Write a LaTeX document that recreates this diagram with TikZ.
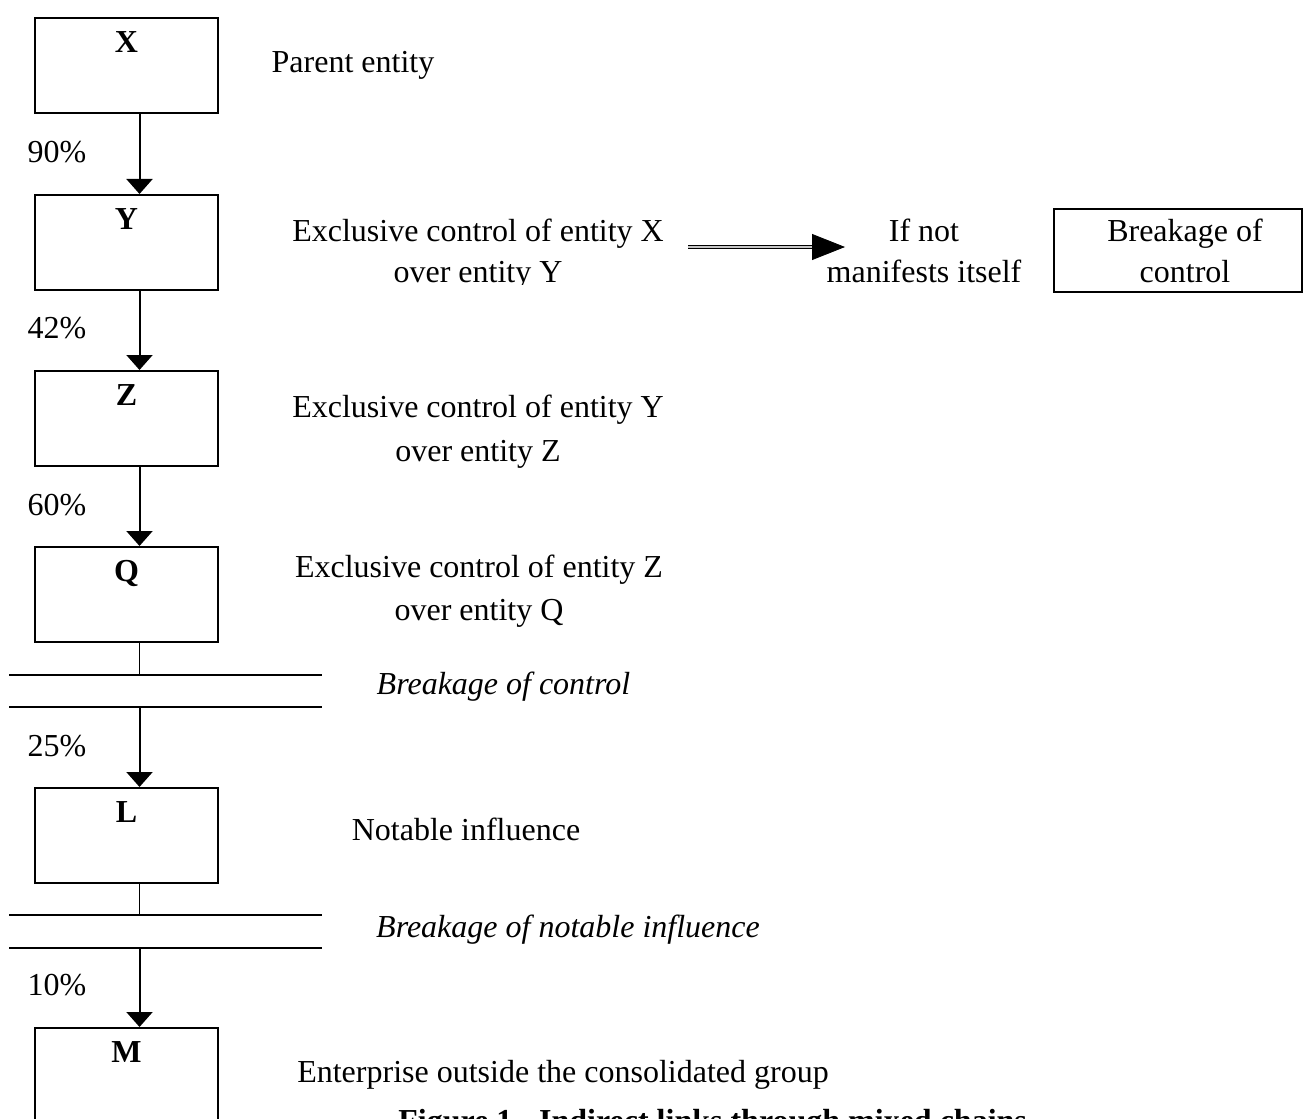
\documentclass[tikz,border=0pt]{standalone}
\usepackage{fontspec}
\setmainfont{Liberation Serif}
\usetikzlibrary{arrows.meta}
\newcommand{\hy}{\vphantom{fy}}
\begin{document}
\begin{tikzpicture}[x=0.5pt,y=-0.5pt,
  font=\fontsize{16}{20.5}\selectfont,
  entity/.style={draw, line width=1pt, minimum width=91.5pt, inner xsep=0pt, inner ysep=0pt,
    text height=17.2pt, text depth=30.3pt, font=\fontsize{16}{20}\selectfont\bfseries},
  txt/.style={inner sep=0pt, text height=10.95pt, text depth=3.5pt},
  itx/.style={txt, font=\fontsize{16}{20}\selectfont\itshape},
  ml/.style={align=center, inner sep=0pt},
  arr/.style={line width=1pt, -{Triangle[width=13pt,length=7.5pt]}},
  thinln/.style={line width=0.65pt},
  brkln/.style={line width=0.7pt}
]
\useasboundingbox (0,0) rectangle (1304,1118);
\clip (0,0) rectangle (1304,1118);

% entity boxes
\node[entity] (X) at (126.5,66) {X};
\node[entity] (Y) at (126.5,242.5) {Y};
\node[entity] (Z) at (126.5,418.5) {Z};
\node[entity] (Q) at (126.5,594.5) {Q};
\node[entity] (L) at (126.5,835.5) {L};
\node[entity] (M) at (126.5,1075.5) {M};

% percentages
\node[txt] (p1) at (57,155) {90\%};
\node[txt] (p2) at (57,331) {42\%};
\node[txt] (p3) at (57,508) {60\%};
\node[txt] (p4) at (57,749) {25\%};
\node[txt] (p5) at (57,988) {10\%};

% arrows
\draw[arr] ([xshift=6.5pt]X.south) -- ([xshift=6.5pt]Y.north);
\draw[arr] ([xshift=6.5pt]Y.south) -- ([xshift=6.5pt]Z.north);
\draw[arr] ([xshift=6.5pt]Z.south) -- ([xshift=6.5pt]Q.north);

% break lines
\coordinate (b1l) at (9,675);
\coordinate (b1r) at (322,675);
\coordinate (b2l) at (9,707);
\coordinate (b2r) at (322,707);
\coordinate (b1) at (139.5,675);
\coordinate (b2) at (139.5,707);
\draw[brkln] (b1l) -- (b1r);
\draw[brkln] (b2l) -- (b2r);
\draw[thinln] ([xshift=6.5pt]Q.south) -- (b1);
\draw[arr] (b2) -- ([xshift=6.5pt]L.north);

\coordinate (b3l) at (9,915);
\coordinate (b3r) at (322,915);
\coordinate (b4l) at (9,948);
\coordinate (b4r) at (322,948);
\coordinate (b3) at (139.5,915);
\coordinate (b4) at (139.5,948);
\draw[brkln] (b3l) -- (b3r);
\draw[brkln] (b4l) -- (b4r);
\draw[thinln] ([xshift=6.5pt]L.south) -- (b3);
\draw[arr] (b4) -- ([xshift=6.5pt]M.north);

% right-hand texts
\node[txt] (tX) at (353,65) {Parent entity};
\begin{scope}
\clip (250,190) rectangle (700,284);
\node[ml, font=\fontsize{16}{20.5}\selectfont] (tY) at (478,254.5) {\hy Exclusive control of entity X\\over entity Y\hy};
\end{scope}
\node[ml, font=\fontsize{16}{22}\selectfont] (tZ) at (478,432) {\hy Exclusive control of entity Y\\over entity Z\hy};
\node[ml, font=\fontsize{16}{21.5}\selectfont] (tQ) at (479,591.5) {\hy Exclusive control of entity Z\\over entity Q\hy};
\node[ml, font=\fontsize{16}{20.5}\selectfont] (ifn) at (924,254.5) {\hy If not\\manifests itself\hy};

% double arrow
\coordinate (da) at (688,247);
\coordinate (dm) at (815,247);
\coordinate (dt) at (845,247);
\draw[line width=0.6pt, double=gray!45, double distance=1pt] (da) -- (dm);
\draw[line width=0.4pt, -{Triangle[width=13pt,length=16.5pt]}] (dm) -- (dt);

% breakage box
\node[draw, line width=1pt, minimum width=124pt, minimum height=41.5pt, inner sep=0pt] (bbox) at (1178,250.5) {};
\node[ml, font=\fontsize{16}{20.5}\selectfont] (btxt) at (1185,254.5) {\hy Breakage of\\control\hy};

\node[itx] (bc) at (503.5,687) {Breakage of control};
\node[txt] (tL) at (466,833) {Notable influence};
\node[itx] (bn) at (568,930) {Breakage of notable influence};
\node[txt] (tM) at (563,1075) {Enterprise outside the consolidated group};
\node[inner sep=0pt, anchor=base west, font=\fontsize{16}{20}\selectfont\bfseries] (cap) at (398,1131) {Figure 1 - Indirect links through mixed chains};
\end{tikzpicture}
\end{document}
